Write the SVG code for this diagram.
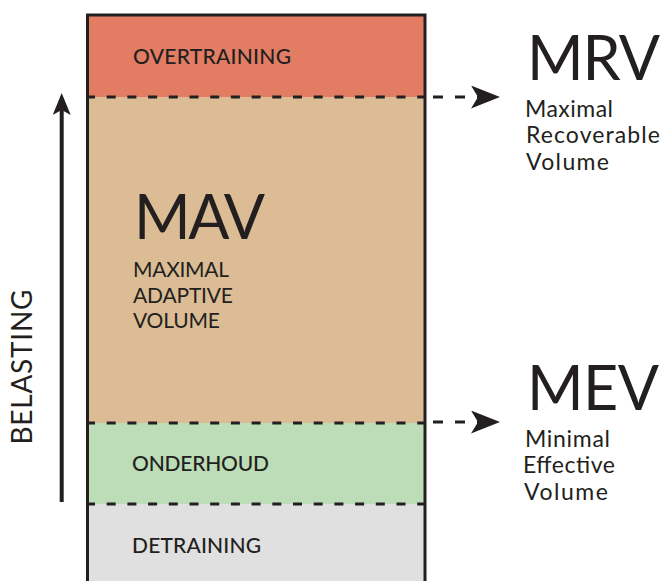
<svg xmlns="http://www.w3.org/2000/svg" width="662" height="581" viewBox="0 0 662 581">
<style>
  .t { font-family: Lato, "Open Sans", "Liberation Sans", sans-serif; fill: #231f20; }
  .band { font-size: 21px; font-weight: 500; }
  .big { font-size: 61px; }
  .sub { font-size: 23px; }
  .cap { font-size: 21px; }
  .bound { stroke: #231f20; stroke-width: 3; stroke-dasharray: 9 11.7; fill: none; }
  .conn { stroke: #231f20; stroke-width: 3; stroke-dasharray: 10 12; fill: none; }
</style>
<defs>
  <marker id="head" markerUnits="userSpaceOnUse" markerWidth="30" markerHeight="24" refX="7" refY="11.5" orient="auto" viewBox="0 0 30 24">
    <path d="M0,0 L29,11.5 L0,23 L7,11.5 Z" fill="#231f20"/>
  </marker>
  <marker id="headUp" markerUnits="userSpaceOnUse" markerWidth="24" markerHeight="20" refX="5" refY="9" orient="auto" viewBox="0 0 24 20">
    <path d="M0,0 L22,9 L0,18 L5,9 Z" fill="#231f20"/>
  </marker>
</defs>
<rect width="662" height="581" fill="#ffffff"/>

<g id="overtraining">
  <rect x="87.5" y="15" width="337.5" height="82" fill="#e27d64"/>
  <text class="t band" x="133" y="64" textLength="158">OVERTRAINING</text>
</g>
<g id="mav">
  <rect x="87.5" y="97" width="337.5" height="326" fill="#dbbc94"/>
  <text class="t big" x="134" y="239" textLength="131">MAV</text>
  <text class="t cap" x="133" y="277" textLength="96">MAXIMAL</text>
  <text class="t cap" x="133" y="303" textLength="100">ADAPTIVE</text>
  <text class="t cap" x="133" y="328" textLength="87">VOLUME</text>
</g>
<g id="onderhoud">
  <rect x="87.5" y="423" width="337.5" height="81" fill="#bcddb7"/>
  <text class="t band" x="132" y="471" textLength="137">ONDERHOUD</text>
</g>
<g id="detraining">
  <rect x="87.5" y="504" width="337.5" height="100" fill="#e0e0e0"/>
  <text class="t band" x="132" y="553" textLength="129">DETRAINING</text>
</g>
<g id="frame">
  <rect x="87.5" y="15" width="337.5" height="600" fill="none" stroke="#231f20" stroke-width="3"/>
  <line class="bound" x1="86" y1="97" x2="426" y2="97"/>
  <line class="bound" x1="86" y1="423" x2="426" y2="423"/>
  <line class="bound" x1="86" y1="504" x2="426" y2="504"/>
</g>

<g id="mrv">
  <text class="t big" x="527" y="80" textLength="133">MRV</text>
  <text class="t sub" x="525" y="117" textLength="88">Maximal</text>
  <text class="t sub" x="526" y="143" textLength="134">Recoverable</text>
  <text class="t sub" x="526" y="170" textLength="83">Volume</text>
</g>
<g id="mev">
  <text class="t big" x="527" y="410" textLength="132">MEV</text>
  <text class="t sub" x="525" y="447" textLength="85">Minimal</text>
  <text class="t sub" x="523" y="473" textLength="92">Effective</text>
  <text class="t sub" x="524" y="500" textLength="84">Volume</text>
</g>
<g id="belasting">
  <text class="t" font-size="28" font-family="'Liberation Sans', Arial, sans-serif" transform="translate(32,367) rotate(-90)" text-anchor="middle" textLength="155">BELASTING</text>
</g>

<g id="connectors">
  <path class="conn" d="M433,97 L478,97" marker-end="url(#head)"/>
  <path class="conn" d="M433,422 L478,422" marker-end="url(#head)"/>
  <path d="M61.7,502 L61.7,110" stroke="#231f20" stroke-width="4" fill="none" marker-end="url(#headUp)"/>
</g>
</svg>
